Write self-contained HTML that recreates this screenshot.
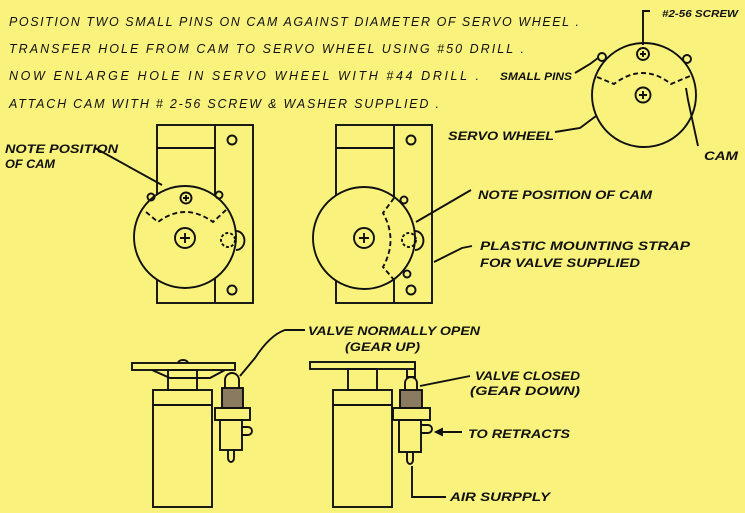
<!DOCTYPE html>
<html><head><meta charset="utf-8"><style>
html,body{margin:0;padding:0;background:#f9f37e}
svg{display:block}
text{font-family:"Liberation Sans",sans-serif;font-style:italic;fill:#111;font-weight:bold}
</style></head><body>
<svg width="745" height="513" viewBox="0 0 745 513" xmlns="http://www.w3.org/2000/svg">
<rect width="745" height="513" fill="#f9f37e"/>
<g font-size="12.5" font-weight="normal" style="font-weight:normal">
<text x="9" y="26" textLength="570" lengthAdjust="spacing" style="font-weight:normal">POSITION TWO SMALL PINS ON CAM AGAINST DIAMETER OF SERVO WHEEL .</text>
<text x="9" y="53" textLength="515" lengthAdjust="spacing" style="font-weight:normal">TRANSFER HOLE FROM CAM TO SERVO WHEEL USING #50 DRILL .</text>
<text x="9" y="80" textLength="470" lengthAdjust="spacing" style="font-weight:normal">NOW ENLARGE HOLE IN SERVO WHEEL WITH #44 DRILL .</text>
<text x="9" y="108" textLength="430" lengthAdjust="spacing" style="font-weight:normal">ATTACH CAM WITH # 2-56 SCREW &amp; WASHER SUPPLIED .</text>
</g>
<g fill="none" stroke="#111" stroke-width="1.9">
<circle cx="644" cy="95" r="52"/>
<circle cx="643" cy="54" r="6"/><path d="M640 54h6M643 51v6"/>
<circle cx="643" cy="95" r="7.5"/><path d="M639 95h8M643 91v8"/>
<circle cx="602" cy="57" r="4"/><circle cx="687" cy="59" r="4"/>
<path d="M597 77L614 84Q643 62 671 84L690 76" stroke-dasharray="5 3"/>
<path d="M650 11h-7v34"/>
<path d="M575 73L590 64L598 58"/>
<path d="M555 132L580 128L596 116"/>
<path d="M698 146L688 100L686 88"/>
<rect x="157" y="125" width="96" height="178"/>
<path d="M215 125v178M157 148h58"/>
<circle cx="232" cy="140" r="4.5"/><circle cx="232" cy="290" r="4.5"/>
<path d="M236 231a8 9 0 0 1 0 19"/>
<circle cx="185" cy="237" r="51" fill="#f9f37e"/>
<circle cx="186" cy="198" r="5.5"/><path d="M183 198h6M186 195v6"/>
<circle cx="185" cy="238" r="10"/><path d="M180 238h10M185 233v10"/>
<circle cx="151" cy="197" r="3.5"/><circle cx="219" cy="195" r="3.5"/>
<path d="M146 212L158 222Q185 202 213 222L226 210" stroke-dasharray="5 3"/>
<circle cx="228" cy="240" r="7" stroke-dasharray="3 2"/>
<path d="M95 148L162 185"/>
<rect x="336" y="125" width="96" height="178"/>
<path d="M394 125v178M336 148h58"/>
<circle cx="411" cy="140" r="4.5"/><circle cx="411" cy="290" r="4.5"/>
<path d="M415 231a8 9 0 0 1 0 19"/>
<circle cx="364" cy="238" r="51" fill="#f9f37e"/>
<circle cx="364" cy="238" r="10"/><path d="M359 238h10M364 233v10"/>
<circle cx="404" cy="200" r="3.5"/><circle cx="407" cy="274" r="3.5"/>
<path d="M394 198L383 213Q398 240 383 267L395 281" stroke-dasharray="5 3"/>
<circle cx="409" cy="240" r="7" stroke-dasharray="3 2"/>
<path d="M471 190L416 222"/>
<path d="M472 246L462 248L434 262"/>
<rect x="132" y="363" width="103" height="7"/>
<path d="M178 363a5 3 0 0 1 10 0"/>
<path d="M152 370L170 378H210L225 370"/>
<rect x="168" y="370" width="29" height="20"/>
<rect x="153" y="390" width="59" height="117"/><path d="M153 405h59"/>
<path d="M225 388v-8a7 7 0 0 1 14 0v8"/>
<rect x="222" y="388" width="21" height="20" fill="#8a7a60"/>
<rect x="215" y="408" width="35" height="12"/>
<rect x="220" y="420" width="22" height="30"/>
<path d="M242 427h6a4 4 0 0 1 0 8h-6"/>
<path d="M228 450v8a3 4 0 0 0 6 0v-8"/>
<path d="M305 330H285Q270 335 255 358L240 376"/>
<rect x="310" y="362" width="105" height="7"/>
<path d="M407 369v8h8v-15"/>
<rect x="348" y="369" width="29" height="21"/>
<rect x="333" y="390" width="59" height="117"/><path d="M333 405h59"/>
<path d="M405 390v-7a6 6 0 0 1 12 0v7"/>
<rect x="400" y="390" width="22" height="18" fill="#8a7a60"/>
<rect x="393" y="408" width="37" height="12"/>
<rect x="399" y="420" width="22" height="32"/>
<path d="M421 425h7a4 4 0 0 1 0 8h-7"/>
<path d="M407 452v8a3 4 0 0 0 6 0v-8"/>
<path d="M470 376L420 386"/>
<path d="M462 432H436"/><path d="M436 432l6-3v6z" fill="#111"/>
<path d="M446 497H412V466"/>
</g>
<g font-size="11.5">
<text x="662" y="17" font-size="10" textLength="76" lengthAdjust="spacingAndGlyphs">#2-56 SCREW</text>
<text x="500" y="80" font-size="11" textLength="72" lengthAdjust="spacingAndGlyphs">SMALL PINS</text>
<text x="448" y="140" textLength="106" lengthAdjust="spacingAndGlyphs">SERVO WHEEL</text>
<text x="704" y="160" textLength="34" lengthAdjust="spacingAndGlyphs">CAM</text>
<text x="5" y="153" textLength="113" lengthAdjust="spacingAndGlyphs">NOTE POSITION</text>
<text x="5" y="168" textLength="50" lengthAdjust="spacingAndGlyphs">OF CAM</text>
<text x="478" y="199" textLength="174" lengthAdjust="spacingAndGlyphs">NOTE POSITION OF CAM</text>
<text x="480" y="250" textLength="210" lengthAdjust="spacingAndGlyphs">PLASTIC MOUNTING STRAP</text>
<text x="480" y="267" textLength="160" lengthAdjust="spacingAndGlyphs">FOR VALVE SUPPLIED</text>
<text x="308" y="335" textLength="172" lengthAdjust="spacingAndGlyphs">VALVE NORMALLY OPEN</text>
<text x="345" y="351" textLength="75" lengthAdjust="spacingAndGlyphs">(GEAR UP)</text>
<text x="475" y="380" textLength="105" lengthAdjust="spacingAndGlyphs">VALVE CLOSED</text>
<text x="470" y="395" textLength="110" lengthAdjust="spacingAndGlyphs">(GEAR DOWN)</text>
<text x="468" y="438" textLength="102" lengthAdjust="spacingAndGlyphs">TO RETRACTS</text>
<text x="450" y="501" textLength="100" lengthAdjust="spacingAndGlyphs">AIR SURPPLY</text>
</g>
</svg>
</body></html>
